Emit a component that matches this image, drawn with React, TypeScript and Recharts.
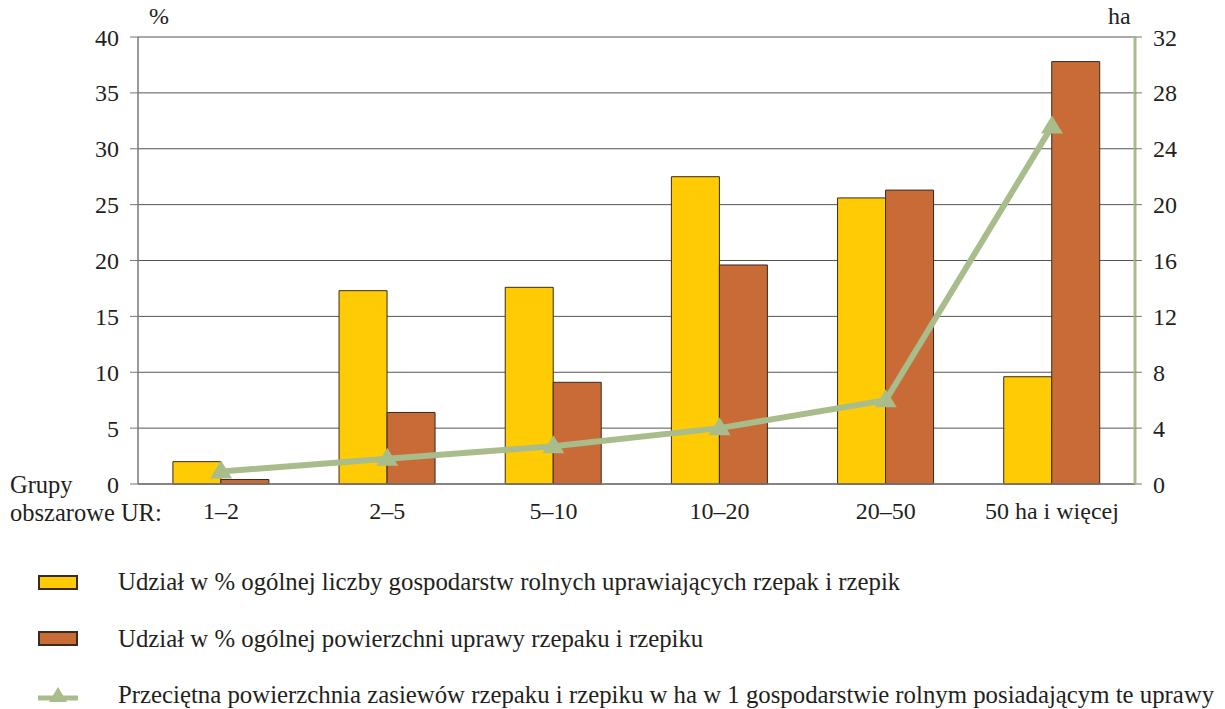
import { ComposedChart, Bar, Line, XAxis, YAxis, CartesianGrid } from "recharts"

const categories = ["1–2", "2–5", "5–10", "10–20", "20–50", "50 ha i więcej"]
const farmsShare = [2.0, 17.3, 17.6, 27.5, 25.6, 9.6]
const areaShare = [0.4, 6.4, 9.1, 19.6, 26.3, 37.8]
const avgArea = [0.9, 1.8, 2.7, 4.0, 6.0, 25.6]
const leftTicks = [0, 5, 10, 15, 20, 25, 30, 35, 40]
const rightTicks = [0, 4, 8, 12, 16, 20, 24, 28, 32]

const legendLabels = [
  "Udział w % ogólnej liczby gospodarstw rolnych uprawiających rzepak i rzepik",
  "Udział w % ogólnej powierzchni uprawy rzepaku i rzepiku",
  "Przeciętna powierzchnia zasiewów rzepaku i rzepiku w ha w 1 gospodarstwie rolnym posiadającym te uprawy",
]

const YELLOW = "#FFCB05"
const ORANGE = "#C96B36"
const GREEN = "#A8BD8B"
const EDGE = "#3a2a20"
const FONT = "'Liberation Serif', 'Times New Roman', serif"

const rows = categories.map((name, i) => ({
  name,
  farms: farmsShare[i],
  area: areaShare[i],
  avg: avgArea[i],
}))

type DotProps = { cx?: number; cy?: number }

function Triangle({ cx, cy }: DotProps) {
  if (cx === undefined || cy === undefined) return null
  return (
    <polygon
      points={`${cx},${cy - 11} ${cx - 11},${cy + 7} ${cx + 11},${cy + 7}`}
      fill={GREEN}
    />
  )
}

const tickStyle = { fill: "#231f20", fontSize: 24, fontFamily: FONT }

export default function App() {
  return (
    <div style={{ position: "absolute", left: 0, top: 0, width: 1225, height: 709, background: "#fff", fontFamily: FONT, color: "#231f20" }}>
      <ComposedChart
        width={1225}
        height={540}
        data={rows}
        margin={{ top: 37, right: 0, left: 0, bottom: 0 }}
        barCategoryGap="21%"
        barGap={0}
      >
        <CartesianGrid vertical={false} stroke="#555" strokeWidth={1} yAxisId="left" />
        <XAxis
          dataKey="name"
          height={56}
          tickLine={false}
          tickSize={0}
          tickMargin={18}
          axisLine={{ stroke: "#777", strokeWidth: 1.5 }}
          tick={tickStyle}
          interval={0}
        />
        <YAxis
          yAxisId="left"
          width={138}
          domain={[0, 40]}
          ticks={leftTicks}
          tickSize={8}
          tickMargin={11}
          axisLine={{ stroke: "#777", strokeWidth: 1.5 }}
          tickLine={{ stroke: "#777" }}
          tick={tickStyle}
        />
        <YAxis
          yAxisId="right"
          orientation="right"
          width={90}
          domain={[0, 32]}
          ticks={rightTicks}
          tickSize={7}
          tickMargin={11}
          axisLine={{ stroke: GREEN, strokeWidth: 3 }}
          tickLine={{ stroke: "#777" }}
          tick={tickStyle}
        />
        <Bar yAxisId="left" dataKey="farms" fill={YELLOW} stroke={EDGE} strokeWidth={1} isAnimationActive={false} />
        <Bar yAxisId="left" dataKey="area" fill={ORANGE} stroke={EDGE} strokeWidth={1} isAnimationActive={false} />
        <Line
          yAxisId="right"
          dataKey="avg"
          stroke={GREEN}
          strokeWidth={6}
          dot={<Triangle />}
          activeDot={false}
          isAnimationActive={false}
        />
      </ComposedChart>

      <div style={{ position: "absolute", left: 149, top: 3, fontSize: 24 }}>%</div>
      <div style={{ position: "absolute", left: 1108, top: 3, fontSize: 24 }}>ha</div>
      <div style={{ position: "absolute", left: 10, top: 471, fontSize: 24.5, lineHeight: "28px" }}>
        Grupy
        <br />
        obszarowe UR:
      </div>

      {legendLabels.map((label, i) => (
        <div
          key={label}
          style={{ position: "absolute", left: 38, top: 568 + i * 56.5, height: 28, display: "flex", alignItems: "center", fontSize: 24.8, whiteSpace: "nowrap" }}
        >
          {i < 2 ? (
            <div style={{ width: 36, height: 11, background: i === 0 ? YELLOW : ORANGE, border: `2px solid ${EDGE}` }} />
          ) : (
            <svg width={40} height={20}>
              <line x1={0} y1={13} x2={40} y2={13} stroke={GREEN} strokeWidth={5} />
              <polygon points="20,2 11,17 29,17" fill={GREEN} />
            </svg>
          )}
          <span style={{ marginLeft: 40 }}>{label}</span>
        </div>
      ))}
    </div>
  )
}
